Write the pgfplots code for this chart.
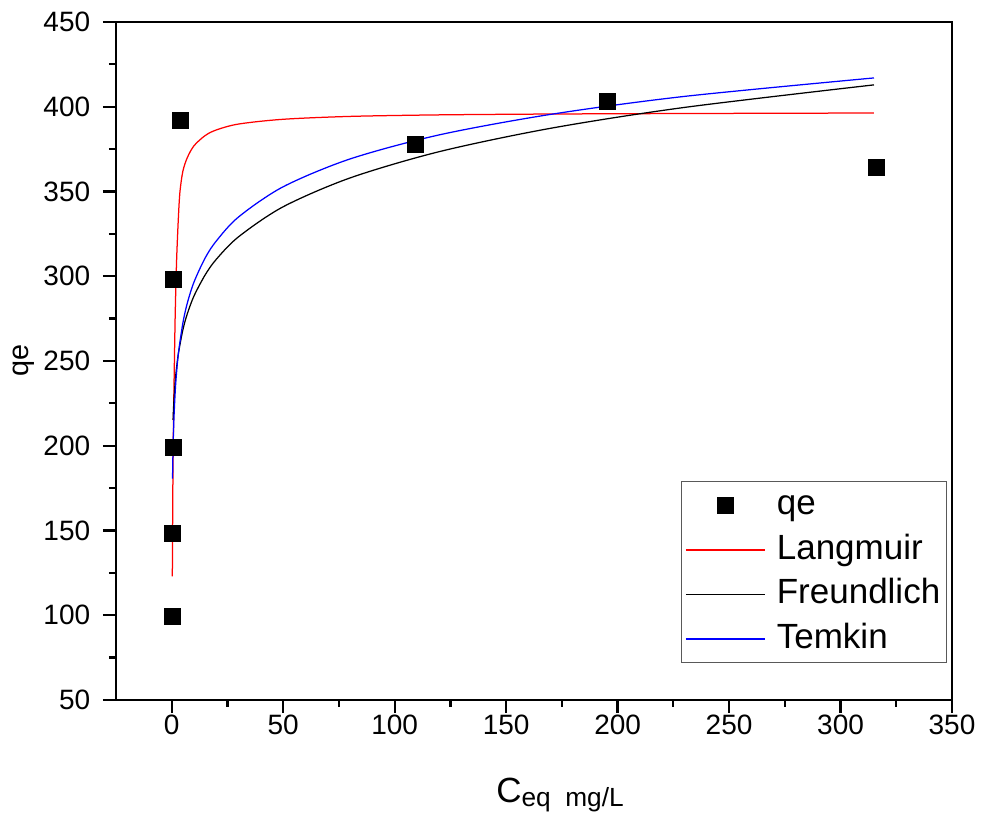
\documentclass[border=0pt]{standalone}
\usepackage{fontspec}
\setmainfont{Liberation Sans}
\usepackage{pgfplots}
\pgfplotsset{compat=1.18}
\definecolor{lgred}{RGB}{255,0,0}
\definecolor{lgblue}{RGB}{0,0,255}
\pgfplotsset{
    linelegend/.style={legend image code/.code={%
        \draw[##1] (0pt,0pt) -- (31.6pt,0pt);
        \path (35pt,0pt);}},
    marklegend/.style={legend image code/.code={%
        \draw[##1] plot coordinates {(15.8pt,0pt)};
        \path (0pt,0pt) (35pt,0pt);}},
}

\begin{document}
\begin{tikzpicture}
\begin{axis}[
    scale only axis,
    width=334.4pt, height=271.2pt,
    xmin=-25, xmax=350, ymin=50, ymax=450,
    xtick={0,50,...,350}, ytick={50,100,...,450},
    minor x tick num=1, minor y tick num=1,
    tick pos=left, tick align=outside,
    major tick length=5.2pt, minor tick length=2.8pt,
    axis line style={line width=1pt},
    every tick/.style={black, line width=0.9pt},
    tick label style={font=\fontsize{11.2}{13}\selectfont},
    xticklabel shift=-2.8pt,
    yticklabel shift=1.6pt,
    /pgf/number format/assume math mode=true,
    ylabel={qe},
    ylabel style={at={(axis description cs:0,0.5)}, anchor=center, yshift=36.8pt,
        font=\fontsize{11.5}{13}\selectfont},
    xlabel={{\fontsize{14}{16}\selectfont C}\raisebox{-1.8pt}{\fontsize{10.5}{12}\selectfont eq\ \ mg/L}},
    xlabel style={at={(axis description cs:0.5,0)}, anchor=center, yshift=-38pt, xshift=10.4pt},
    legend style={at={(0.994,0.0546)}, anchor=south east, draw=gray!70!black,
        font=\fontsize{14}{16}\selectfont, row sep=2.4pt, inner sep=1.5pt,
        nodes={inner sep=1pt, text height=10.5pt, text depth=3pt}},
    legend cell align=left,
]

\addlegendimage{only marks, mark=square*, mark size=3.2pt, black, marklegend}
\addlegendentry{qe}
\addlegendimage{draw=lgred, line width=0.7pt, linelegend}
\addlegendentry{Langmuir}
\addlegendimage{draw=black, line width=0.7pt, linelegend}
\addlegendentry{Freundlich}
\addlegendimage{draw=lgblue, line width=0.7pt, linelegend}
\addlegendentry{Temkin}

\addplot[forget plot, red, line width=0.5pt, smooth] coordinates {
    (0.27,123) (0.5,175) (0.8,215) (1.2,250) (1.6,280) (2.2,310) (3,335)
    (3.7,350) (5,362) (7,370) (10,377) (15,383) (20,386.3) (30,389.8)
    (50,392.6) (80,394.3) (120,395.2) (170,395.7) (230,396) (315,396.3)
};

\addplot[forget plot, black, line width=0.5pt, smooth] coordinates {
    (0.6,215.3) (0.8,221.8) (1,227) (1.5,236.8) (2,244) (3,254.5) (5,268.4)
    (7,277.9) (10,288.4) (15,300.8) (20,310) (30,323.3) (50,341) (80,358)
    (120,373.5) (170,387.3) (230,399.6) (315,412.9)
};

\addplot[forget plot, blue, line width=0.5pt, smooth] coordinates {
    (0.36,180.6) (0.5,192.1) (0.7,203.8) (1,216.3) (1.5,230.4) (2,240.5)
    (3,254.6) (5,272.4) (7,284.2) (10,296.6) (15,310.8) (20,320.8) (30,335)
    (50,352.8) (80,369.2) (120,383.4) (170,395.5) (230,406.1) (315,417)
};

\addplot[forget plot, only marks, mark=square*, mark size=3.2pt, black] coordinates {
    (4,392) (0.6,298) (0.7,199) (0.3,148) (0.3,99)
    (109.5,377.5) (195.5,403) (316,364)
};

\end{axis}
\pgfresetboundingbox
\path[use as bounding box]
    ([xshift=-46.4pt, yshift=-45.2pt]current axis.south west)
    rectangle ([xshift=12.4pt, yshift=8.8pt]current axis.north east);
\end{tikzpicture}
\end{document}
